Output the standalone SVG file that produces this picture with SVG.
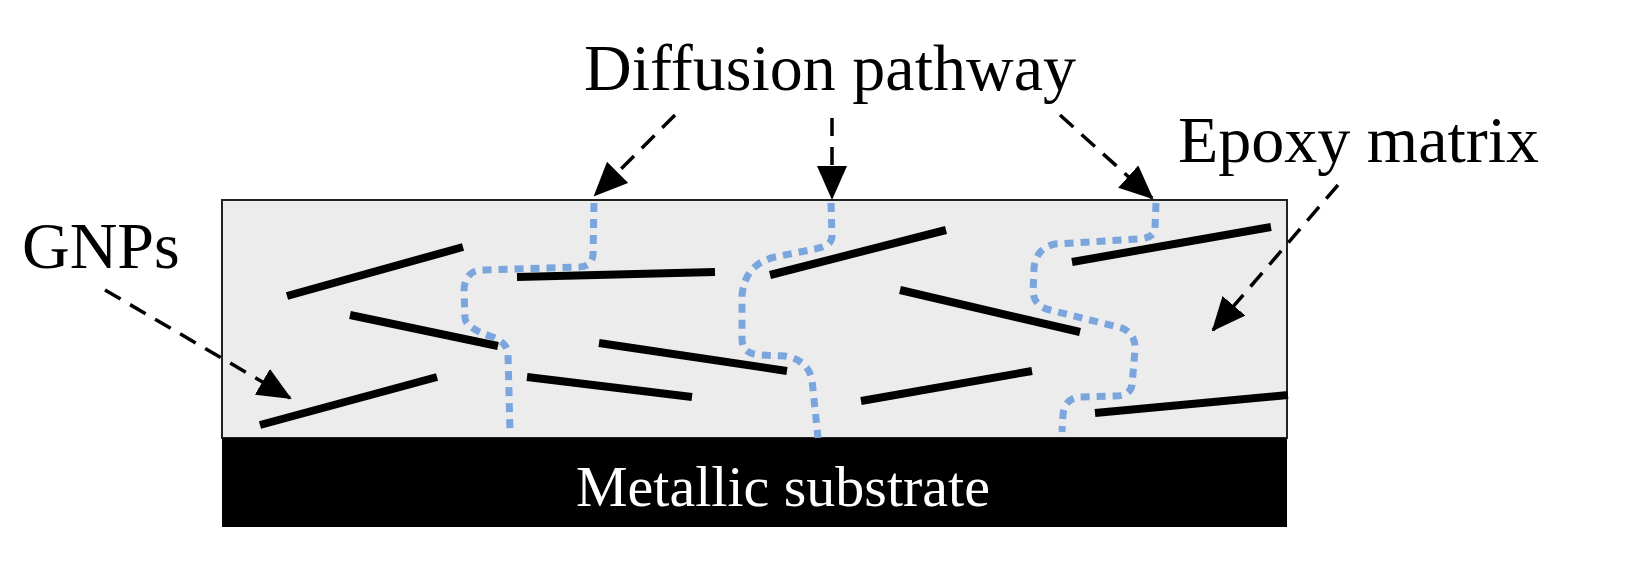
<svg xmlns="http://www.w3.org/2000/svg" width="1630" height="582" viewBox="0 0 1630 582">
<style>
.t{font-family:"Liberation Serif",serif;font-size:66px;fill:#000}
.g{stroke:#000;stroke-width:8;fill:none}
.p{stroke:#7aa5dd;stroke-width:7;stroke-dasharray:9,7;fill:none}
.a{stroke:#000;stroke-width:3.5;stroke-dasharray:18,11;fill:none;marker-end:url(#ah)}
</style>
<defs><marker id="ah" markerUnits="userSpaceOnUse" markerWidth="34" markerHeight="30" refX="32" refY="15" orient="auto"><path d="M0,0 L34,15 L0,30 Z" fill="#000"/></marker></defs>
<rect width="1630" height="582" fill="#fff"/>
<g id="matrix"><rect x="222" y="200" width="1065" height="238" fill="#ececec" stroke="#222" stroke-width="2"/></g>
<g id="substrate"><rect x="222" y="438" width="1065" height="89" fill="#000"/><text x="783" y="506" class="t" style="fill:#fff;font-size:58px" text-anchor="middle">Metallic substrate</text></g>
<g id="gnps">
<line class="g" x1="287" y1="296" x2="463" y2="247"/>
<line class="g" x1="350" y1="315" x2="498" y2="346"/>
<line class="g" x1="260" y1="425" x2="437" y2="377"/>
<line class="g" x1="517" y1="277" x2="715" y2="272"/>
<line class="g" x1="599" y1="343" x2="787" y2="371"/>
<line class="g" x1="527" y1="377" x2="692" y2="397"/>
<line class="g" x1="770" y1="275" x2="946" y2="230"/>
<line class="g" x1="900" y1="290" x2="1080" y2="332"/>
<line class="g" x1="861" y1="401" x2="1032" y2="371"/>
<line class="g" x1="1072" y1="262" x2="1271" y2="227"/>
<line class="g" x1="1095" y1="413" x2="1288" y2="395"/>
</g>
<g id="pathways">
<path class="p" d="M594,203 L593,255 Q592,267 578,267 L480,270 Q464,272 464,292 L465,318 Q466,328 490,336 Q508,342 508,355 L510,432"/>
<path class="p" d="M831,203 L832,236 Q832,246 815,249 L775,257 Q745,264 742,295 L742,340 Q743,354 760,355 L785,356 Q808,360 812,380 L818,438"/>
<path class="p" d="M1156,203 L1155,228 Q1155,238 1138,239 L1055,244 Q1036,248 1034,268 L1033,292 Q1034,306 1050,310 L1122,328 Q1136,334 1135,350 L1132,385 Q1130,396 1115,396 L1078,397 Q1064,400 1063,415 L1062,432"/>
</g>
<g id="labels">
<text class="t" x="830" y="90" text-anchor="middle">Diffusion pathway</text>
<text class="t" x="1178" y="162">Epoxy matrix</text>
<text class="t" x="22" y="268">GNPs</text>
</g>
<g id="connectors">
<path class="a" d="M675,115 L595,195"/>
<path class="a" d="M832,118 L832,198"/>
<path class="a" d="M1060,115 L1152,198"/>
<path class="a" d="M1338,185 L1213,330"/>
<path class="a" d="M105,290 L290,398"/>
</g>
</svg>
